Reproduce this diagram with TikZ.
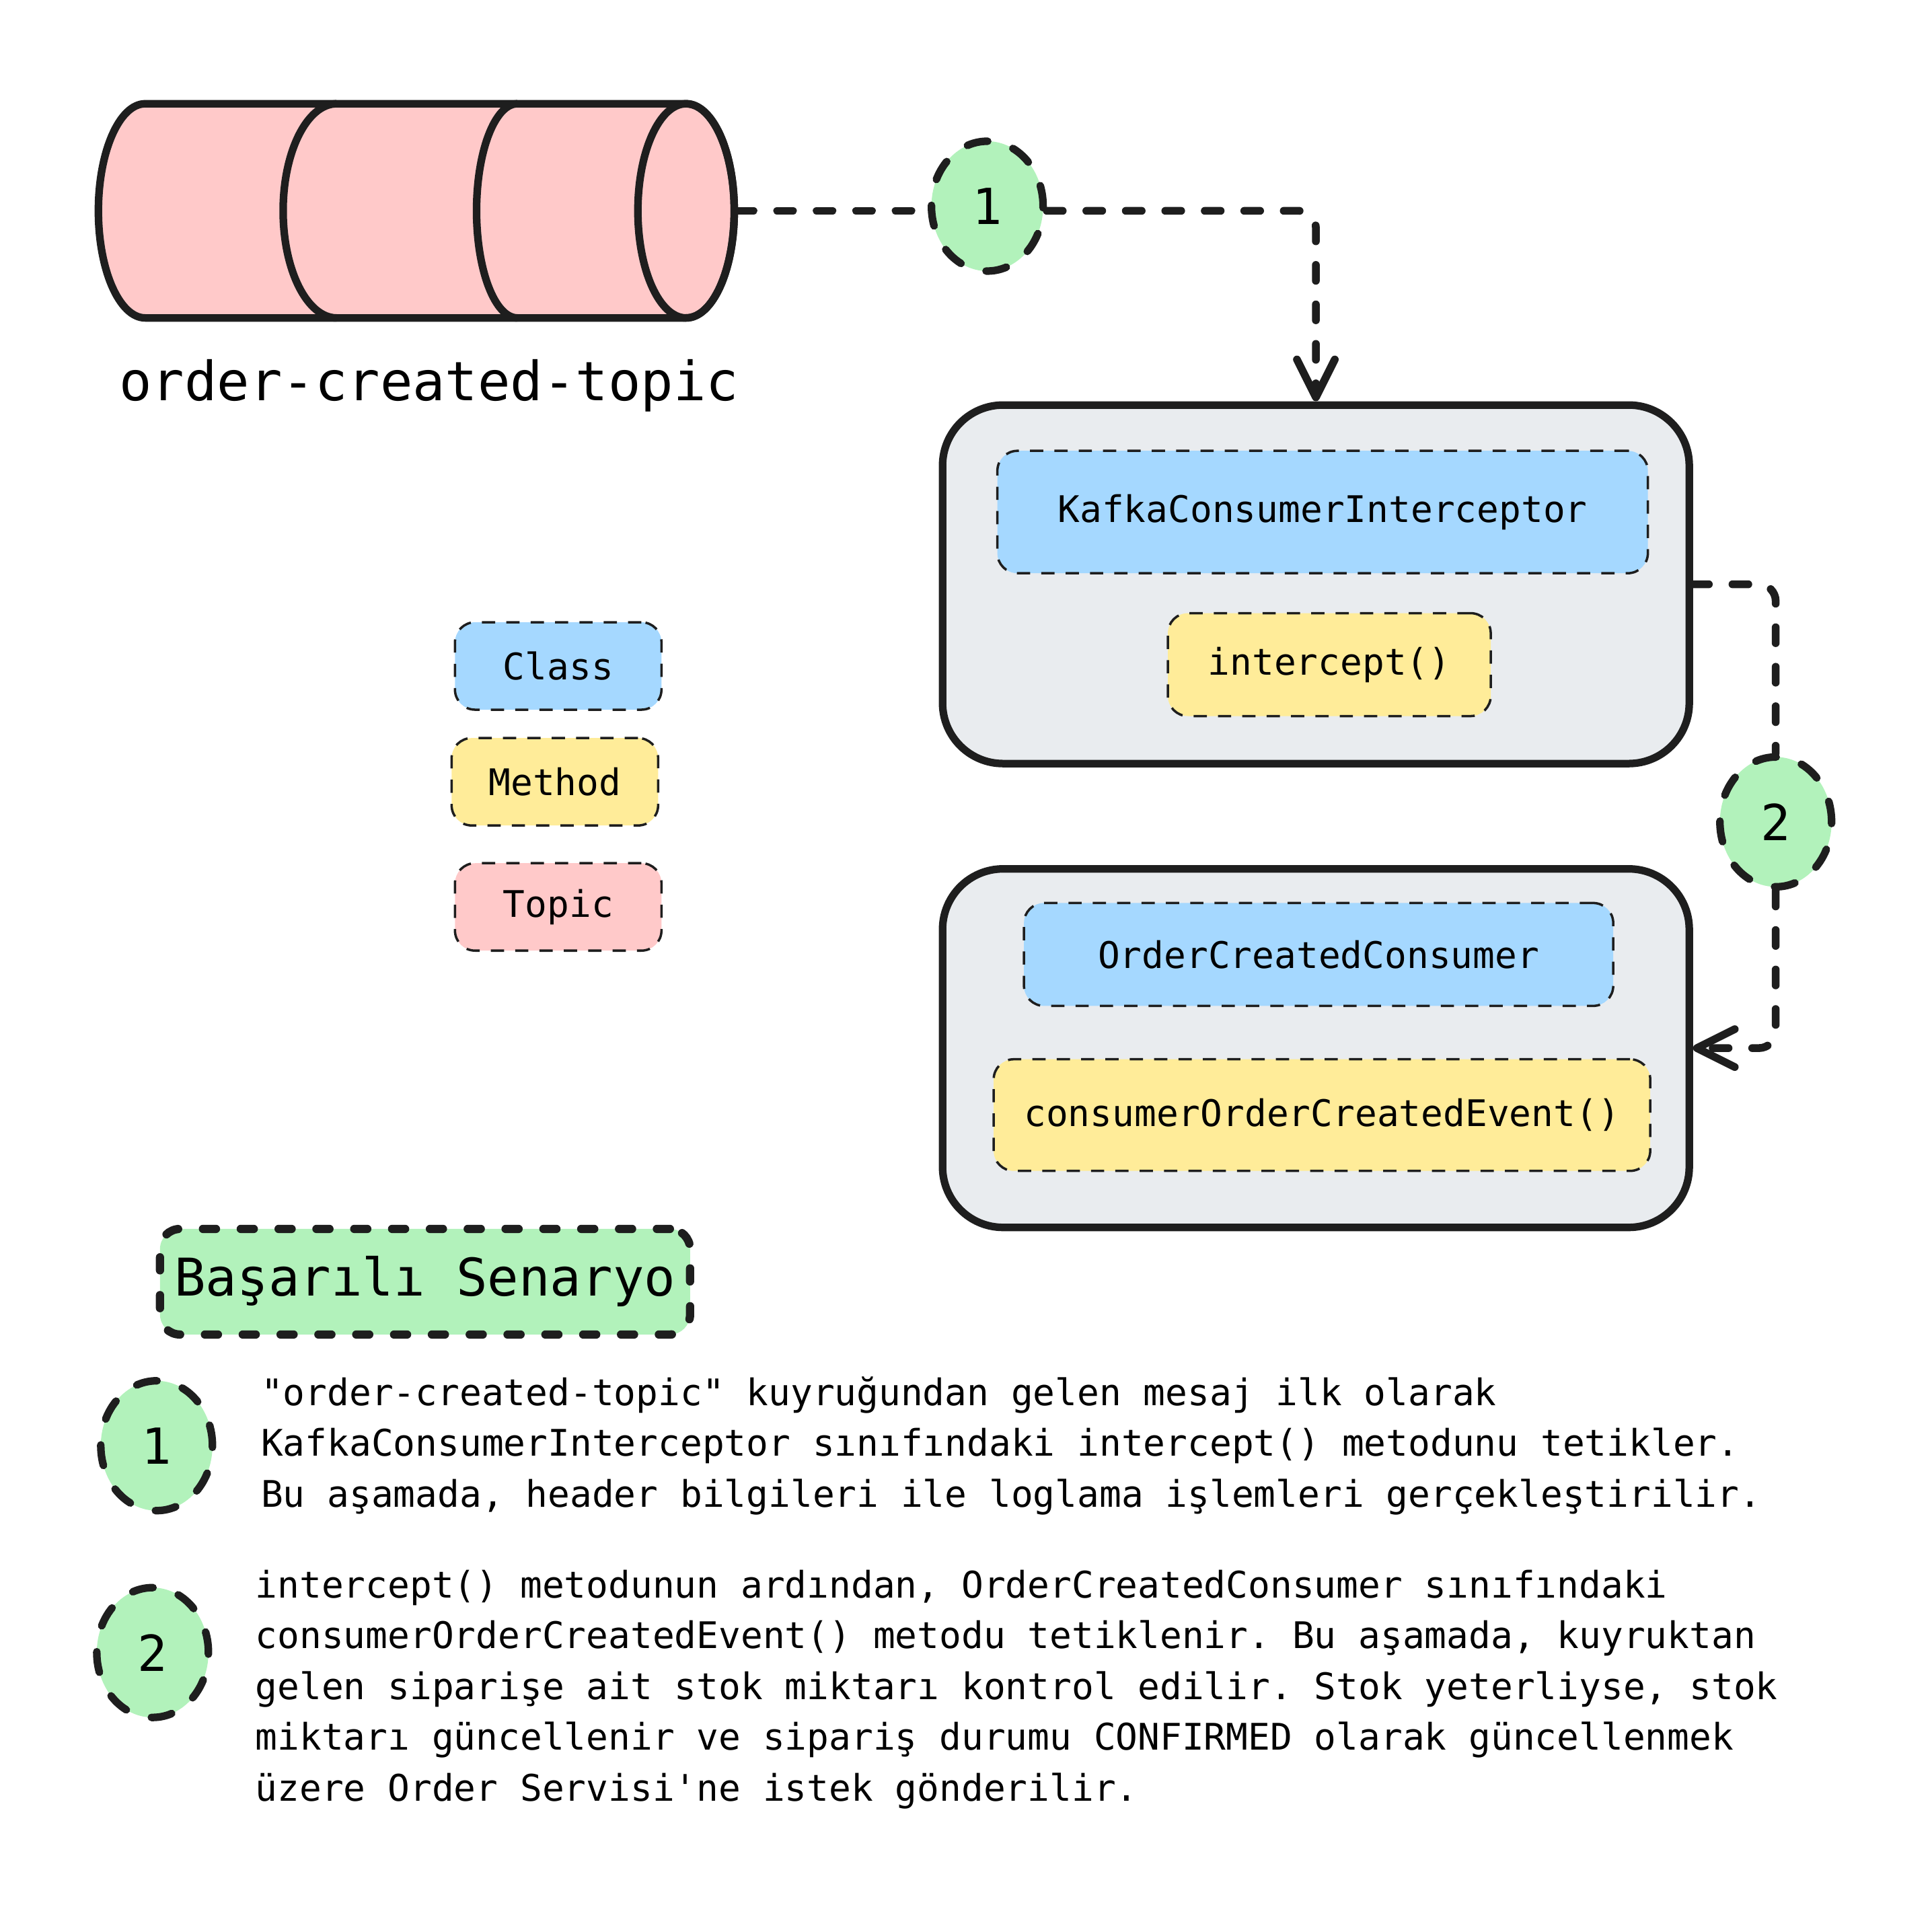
\documentclass[tikz,border=0pt]{standalone}
\usepackage{fontspec}
\setmonofont{DejaVu Sans Mono}
\usepackage{tikz}
\usetikzlibrary{arrows.meta,shapes.geometric,positioning}
\definecolor{ink}{HTML}{1E1E1E}
\definecolor{topicred}{HTML}{FFC9C9}
\definecolor{classblue}{HTML}{A5D8FF}
\definecolor{methodyel}{HTML}{FFEC99}
\definecolor{stepgreen}{HTML}{B2F2BB}
\definecolor{boxgray}{HTML}{E9ECEF}
\newcommand{\dgtext}{\ttfamily\fontsize{15.5}{21.5}\selectfont}
\newcommand{\dgbig}{\ttfamily\fontsize{22.9}{27}\selectfont}
\newcommand{\dgtitle}{\ttfamily\fontsize{22}{26}\selectfont}
\newcommand{\dgnum}{\ttfamily\fontsize{21}{25}\selectfont}
\tikzset{>={Straight Barb[length=16pt,width=16pt,round]}}
\tikzset{cyl/.style={draw=ink,line width=3.2pt,line join=round}}
\tikzset{bigbox/.style={rectangle,rounded corners=0.9cm,fill=boxgray,draw=ink,line width=3.2pt,minimum width=11.1cm,minimum height=5.33cm}}
\tikzset{classbox/.style={rectangle,rounded corners=0.3cm,fill=classblue,draw=ink,line width=1pt,dash pattern=on 5.6pt off 4.7pt,font=\dgtext}}
\tikzset{methodbox/.style={rectangle,rounded corners=0.3cm,fill=methodyel,draw=ink,line width=1pt,dash pattern=on 5.6pt off 4.7pt,font=\dgtext}}
\tikzset{topicbox/.style={rectangle,rounded corners=0.3cm,fill=topicred,draw=ink,line width=1pt,dash pattern=on 5.6pt off 4.7pt,font=\dgtext}}
\tikzset{legendbox/.style={minimum width=3.07cm,minimum height=1.3cm}}
\tikzset{stepnum/.style={ellipse,fill=stepgreen,draw=ink,line width=3.2pt,line cap=round,dash pattern=on 8.8pt off 11.2pt,minimum width=1.66cm,minimum height=1.93cm,inner sep=0pt,font=\dgnum}}
\tikzset{titlebox/.style={rectangle,rounded corners=0.3cm,fill=stepgreen,draw=ink,line width=3.5pt,line cap=round,dash pattern=on 5.5pt off 10.5pt,minimum width=7.88cm,minimum height=1.57cm,font=\dgtitle}}
\tikzset{flow/.style={draw=ink,line width=3.3pt,line cap=round,dash pattern=on 6.7pt off 10pt,rounded corners=0.25cm}}
\tikzset{infotext/.style={align=left,anchor=west,inner sep=0pt,font=\dgtext}}
\begin{document}
\begin{tikzpicture}
    \useasboundingbox (0,0) rectangle (28.72,-28.31);
  \begin{scope}[scale=0.995]

    % topic
    \node[minimum width=9.52cm,minimum height=3.22cm,inner sep=0pt] (topic) at (6.23,-3.15) {};
    \filldraw[cyl,fill=topicred] (2.17,-1.55) -- (10.25,-1.55) arc[start angle=90,end angle=-90,x radius=0.72,y radius=1.6] -- (2.17,-4.75) arc[start angle=270,end angle=90,x radius=0.7,y radius=1.6] -- cycle;
    \draw[cyl] (10.25,-3.15) ellipse [x radius=0.72,y radius=1.6];
    \draw[cyl] (5.03,-1.55) arc[start angle=90,end angle=270,x radius=0.8,y radius=1.6];
    \draw[cyl] (7.73,-1.55) arc[start angle=90,end angle=270,x radius=0.61,y radius=1.6];
    \node[font=\dgbig] (topiclabel) at (6.41,-5.76) {order-created-topic};

    % consumers
    \node[bigbox] (consA) at (19.66,-8.73) {};
    \node[bigbox] (consB) at (19.66,-15.66) {};
    \node[classbox,minimum width=9.67cm,minimum height=1.82cm] (kci) at (19.76,-7.65) {KafkaConsumerInterceptor};
    \node[methodbox,minimum width=4.80cm,minimum height=1.53cm] (icpt) at (19.86,-9.93) {intercept()};
    \node[classbox,minimum width=8.76cm,minimum height=1.53cm] (occ) at (19.70,-14.26) {OrderCreatedConsumer};
    \node[methodbox,minimum width=9.76cm,minimum height=1.66cm] (coce) at (19.75,-16.66) {consumerOrderCreatedEvent()};

    \node[stepnum] (c1) at (14.75,-3.08) {1};
    \node[stepnum] (c2) at (26.53,-12.28) {2};

    \draw[flow] (topic.east) -- (topic.east -| c1.west);
    \draw[flow,->] (c1.east |- topic.east) -| (consA.north);
    \draw[flow] (consA.east) -| (c2.north);
    \draw[flow,->] (c2.south) |- (consB.east);

    % legend
    \node[classbox,legendbox]  (legc) at (8.34,-9.95)  {Class};
    \node[methodbox,legendbox] (legm) at (8.29,-11.68) {Method};
    \node[topicbox,legendbox]  (legt) at (8.34,-13.55) {Topic};

    % scenario
    \node[titlebox] (title) at (6.35,-19.15) {Başarılı Senaryo};
    \node[stepnum] (s1) at (2.34,-21.60) {1};
    \node[stepnum] (s2) at (2.28,-24.69) {2};
    \node[infotext,right=0.66cm of s1] (t1) {"order-created-topic" kuyruğundan gelen mesaj ilk olarak\\KafkaConsumerInterceptor sınıfındaki intercept() metodunu tetikler.\\Bu aşamada, header bilgileri ile loglama işlemleri gerçekleştirilir.};
    \node[infotext] (t2) at (3.81,-25.24) {intercept() metodunun ardından, OrderCreatedConsumer sınıfındaki\\consumerOrderCreatedEvent() metodu tetiklenir. Bu aşamada, kuyruktan\\gelen siparişe ait stok miktarı kontrol edilir. Stok yeterliyse, stok\\miktarı güncellenir ve sipariş durumu CONFIRMED olarak güncellenmek\\üzere Order Servisi'ne istek gönderilir.};
  \end{scope}
\end{tikzpicture}
\end{document}
